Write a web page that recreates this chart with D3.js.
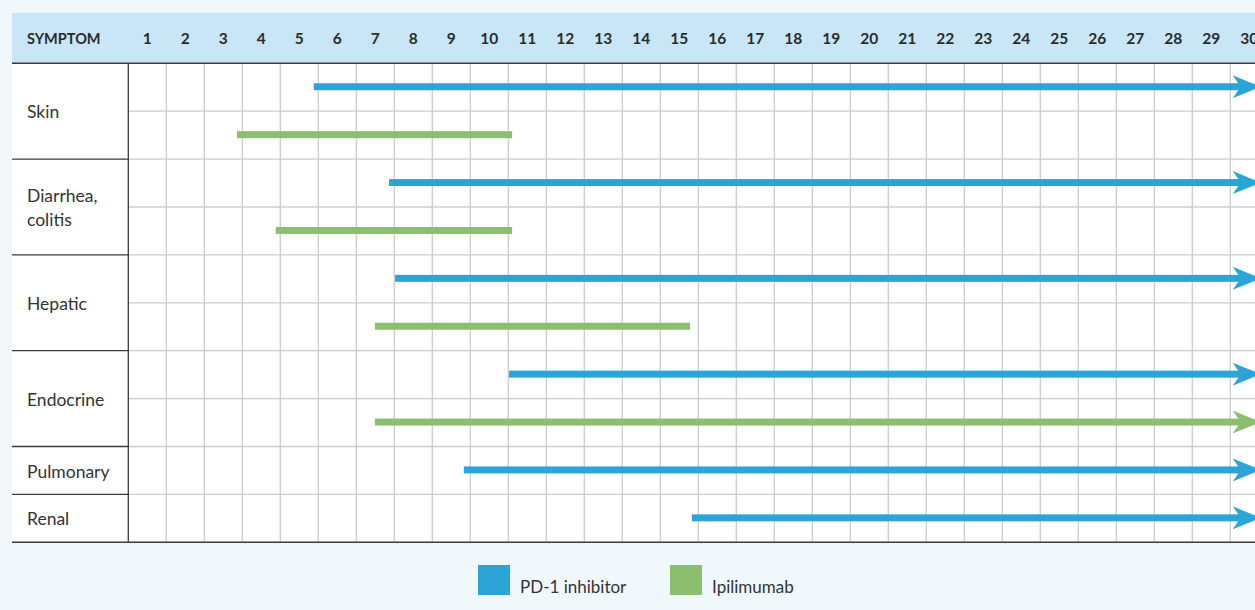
<!DOCTYPE html>
<html><head><meta charset="utf-8">
<script src="https://cdn.jsdelivr.net/npm/d3@7"></script>
<style>
html,body{margin:0;padding:0;background:#f1f8fc;overflow:hidden;}
svg{display:block;font-family:Lato,"Noto Sans",sans-serif;}
</style></head>
<body>
<svg id="chart" width="1255" height="610"></svg>
<script>
// ---- data ----
const dayLabels = [1,2,3,4,5,6,7,8,9,10,11,12,13,14,15,16,17,18,19,20,21,22,23,24,25,26,27,28,29,30];
const symptoms = ["Skin", "Diarrhea, colitis", "Hepatic", "Endocrine", "Pulmonary", "Renal"];
const symptomLines = [["Skin"], ["Diarrhea,", "colitis"], ["Hepatic"], ["Endocrine"], ["Pulmonary"], ["Renal"]];
const pd1Start = [4.88, 6.86, 7.02, 10.02, 8.83, 14.83];
const pd1End   = [29.8, 29.8, 29.8, 29.8, 29.8, 29.8];
const pd1Ongoing = [true, true, true, true, true, true];
const ipiStart = [2.86, 3.88, 6.49, 6.49, null, null];
const ipiEnd   = [10.1, 10.1, 14.78, 29.8, null, null];
const ipiOngoing = [false, false, false, true, false, false];
const seriesNames = ["PD-1 inhibitor", "Ipilimumab"];
const seriesColors = ["#2ca4d5", "#8cbe6f"];

// ---- build sub-rows ----
const rows = [];
symptoms.forEach((s, i) => {
  rows.push({key: s + "|pd1", sym: i, series: 0, start: pd1Start[i], end: pd1End[i], arrow: pd1Ongoing[i]});
  if (ipiStart[i] != null) rows.push({key: s + "|ipi", sym: i, series: 1, start: ipiStart[i], end: ipiEnd[i], arrow: ipiOngoing[i]});
});

const svg = d3.select("#chart");
const W = 1255;
const leftX = 12, gridLeft = 128.3, topY = 13, headerBottom = 63.3, bottomY = 542.3;

const x = d3.scaleLinear().domain([0, 30]).range([gridLeft, gridLeft + 38 * 30]);
const y = d3.scaleBand().domain(rows.map(r => r.key)).range([headerBottom, bottomY]);

// header band
svg.append("rect").attr("x", leftX).attr("y", topY).attr("width", W - leftX).attr("height", headerBottom - topY).attr("fill", "#c8e6f5");
// table body
svg.append("rect").attr("x", leftX).attr("y", headerBottom).attr("width", W - leftX).attr("height", bottomY - headerBottom).attr("fill", "#ffffff");

// vertical grid lines
svg.append("g").selectAll("line").data(d3.range(1, 30)).join("line")
  .attr("x1", d => x(d)).attr("x2", d => x(d))
  .attr("y1", headerBottom).attr("y2", bottomY)
  .attr("stroke", "#cccccc").attr("stroke-width", 1.3);
// horizontal grid lines
svg.append("g").selectAll("line").data(rows.slice(1)).join("line")
  .attr("x1", gridLeft).attr("x2", W)
  .attr("y1", d => y(d.key)).attr("y2", d => y(d.key))
  .attr("stroke", "#cccccc").attr("stroke-width", 1.3);

// group boundaries in left column
const groupStarts = symptoms.map((s, i) => rows.find(r => r.sym === i));
const groupEnds = symptoms.map((s, i) => { const rs = rows.filter(r => r.sym === i); return rs[rs.length - 1]; });
svg.append("g").selectAll("line").data(groupStarts.slice(1)).join("line")
  .attr("x1", leftX).attr("x2", gridLeft)
  .attr("y1", d => y(d.key)).attr("y2", d => y(d.key))
  .attr("stroke", "#3a3a3a").attr("stroke-width", 1.3);

// header and bottom lines, left column line
svg.append("line").attr("x1", leftX).attr("x2", W).attr("y1", headerBottom).attr("y2", headerBottom).attr("stroke", "#3a3a3a").attr("stroke-width", 1.5);
svg.append("line").attr("x1", leftX).attr("x2", W).attr("y1", bottomY).attr("y2", bottomY).attr("stroke", "#3a3a3a").attr("stroke-width", 1.5);
svg.append("line").attr("x1", gridLeft).attr("x2", gridLeft).attr("y1", headerBottom).attr("y2", bottomY).attr("stroke", "#3a3a3a").attr("stroke-width", 1.3);

// header text
svg.append("text").attr("x", 27).attr("y", 39).attr("dy", "0.35em")
  .attr("font-size", 14.5).attr("font-weight", 700).attr("fill", "#2b2b2b").text("SYMPTOM");
svg.append("g").selectAll("text").data(dayLabels).join("text")
  .attr("x", d => x(d - 0.5)).attr("y", 39).attr("dy", "0.35em")
  .attr("text-anchor", "middle").attr("font-size", 15.5).attr("font-weight", 700).attr("fill", "#2b2b2b")
  .text(d => d);

// symptom labels
symptoms.forEach((s, i) => {
  const y0 = y(groupStarts[i].key), y1 = y(groupEnds[i].key) + y.bandwidth();
  const cy = (y0 + y1) / 2;
  const lines = symptomLines[i];
  const lh = 24;
  svg.append("text").attr("x", 27).attr("font-size", 17.5).attr("fill", "#333333")
    .selectAll("tspan").data(lines).join("tspan")
    .attr("x", 27).attr("y", (d, j) => cy + (j - (lines.length - 1) / 2) * lh + 1).attr("dy", "0.35em")
    .text(d => d);
});

// bars
const barH = 7;
const bars = svg.append("g");
rows.forEach(r => {
  const cy = y(r.key) + y.bandwidth() / 2 - 0.5;
  const col = seriesColors[r.series];
  const xs = x(r.start), xe = x(r.end);
  if (r.arrow) {
    bars.append("rect").attr("x", xs).attr("y", cy - barH / 2).attr("width", (xe - 20) - xs + 1).attr("height", barH).attr("fill", col);
    bars.append("polygon")
      .attr("points", [[xe, cy], [xe - 28, cy - 11.5], [xe - 20, cy], [xe - 28, cy + 11.5]].map(p => p.join(",")).join(" "))
      .attr("fill", col);
  } else {
    bars.append("rect").attr("x", xs).attr("y", cy - barH / 2).attr("width", xe - xs).attr("height", barH).attr("fill", col);
  }
});

// legend
const legX = [478, 670];
const lg = svg.append("g");
seriesNames.forEach((n, i) => {
  lg.append("rect").attr("x", legX[i]).attr("y", 565).attr("width", 32).attr("height", 30).attr("fill", seriesColors[i]);
  lg.append("text").attr("x", legX[i] + 42).attr("y", 587).attr("dy", "0.35em")
    .attr("font-size", 17).attr("fill", "#333333").text(n);
});
</script>
</body></html>
